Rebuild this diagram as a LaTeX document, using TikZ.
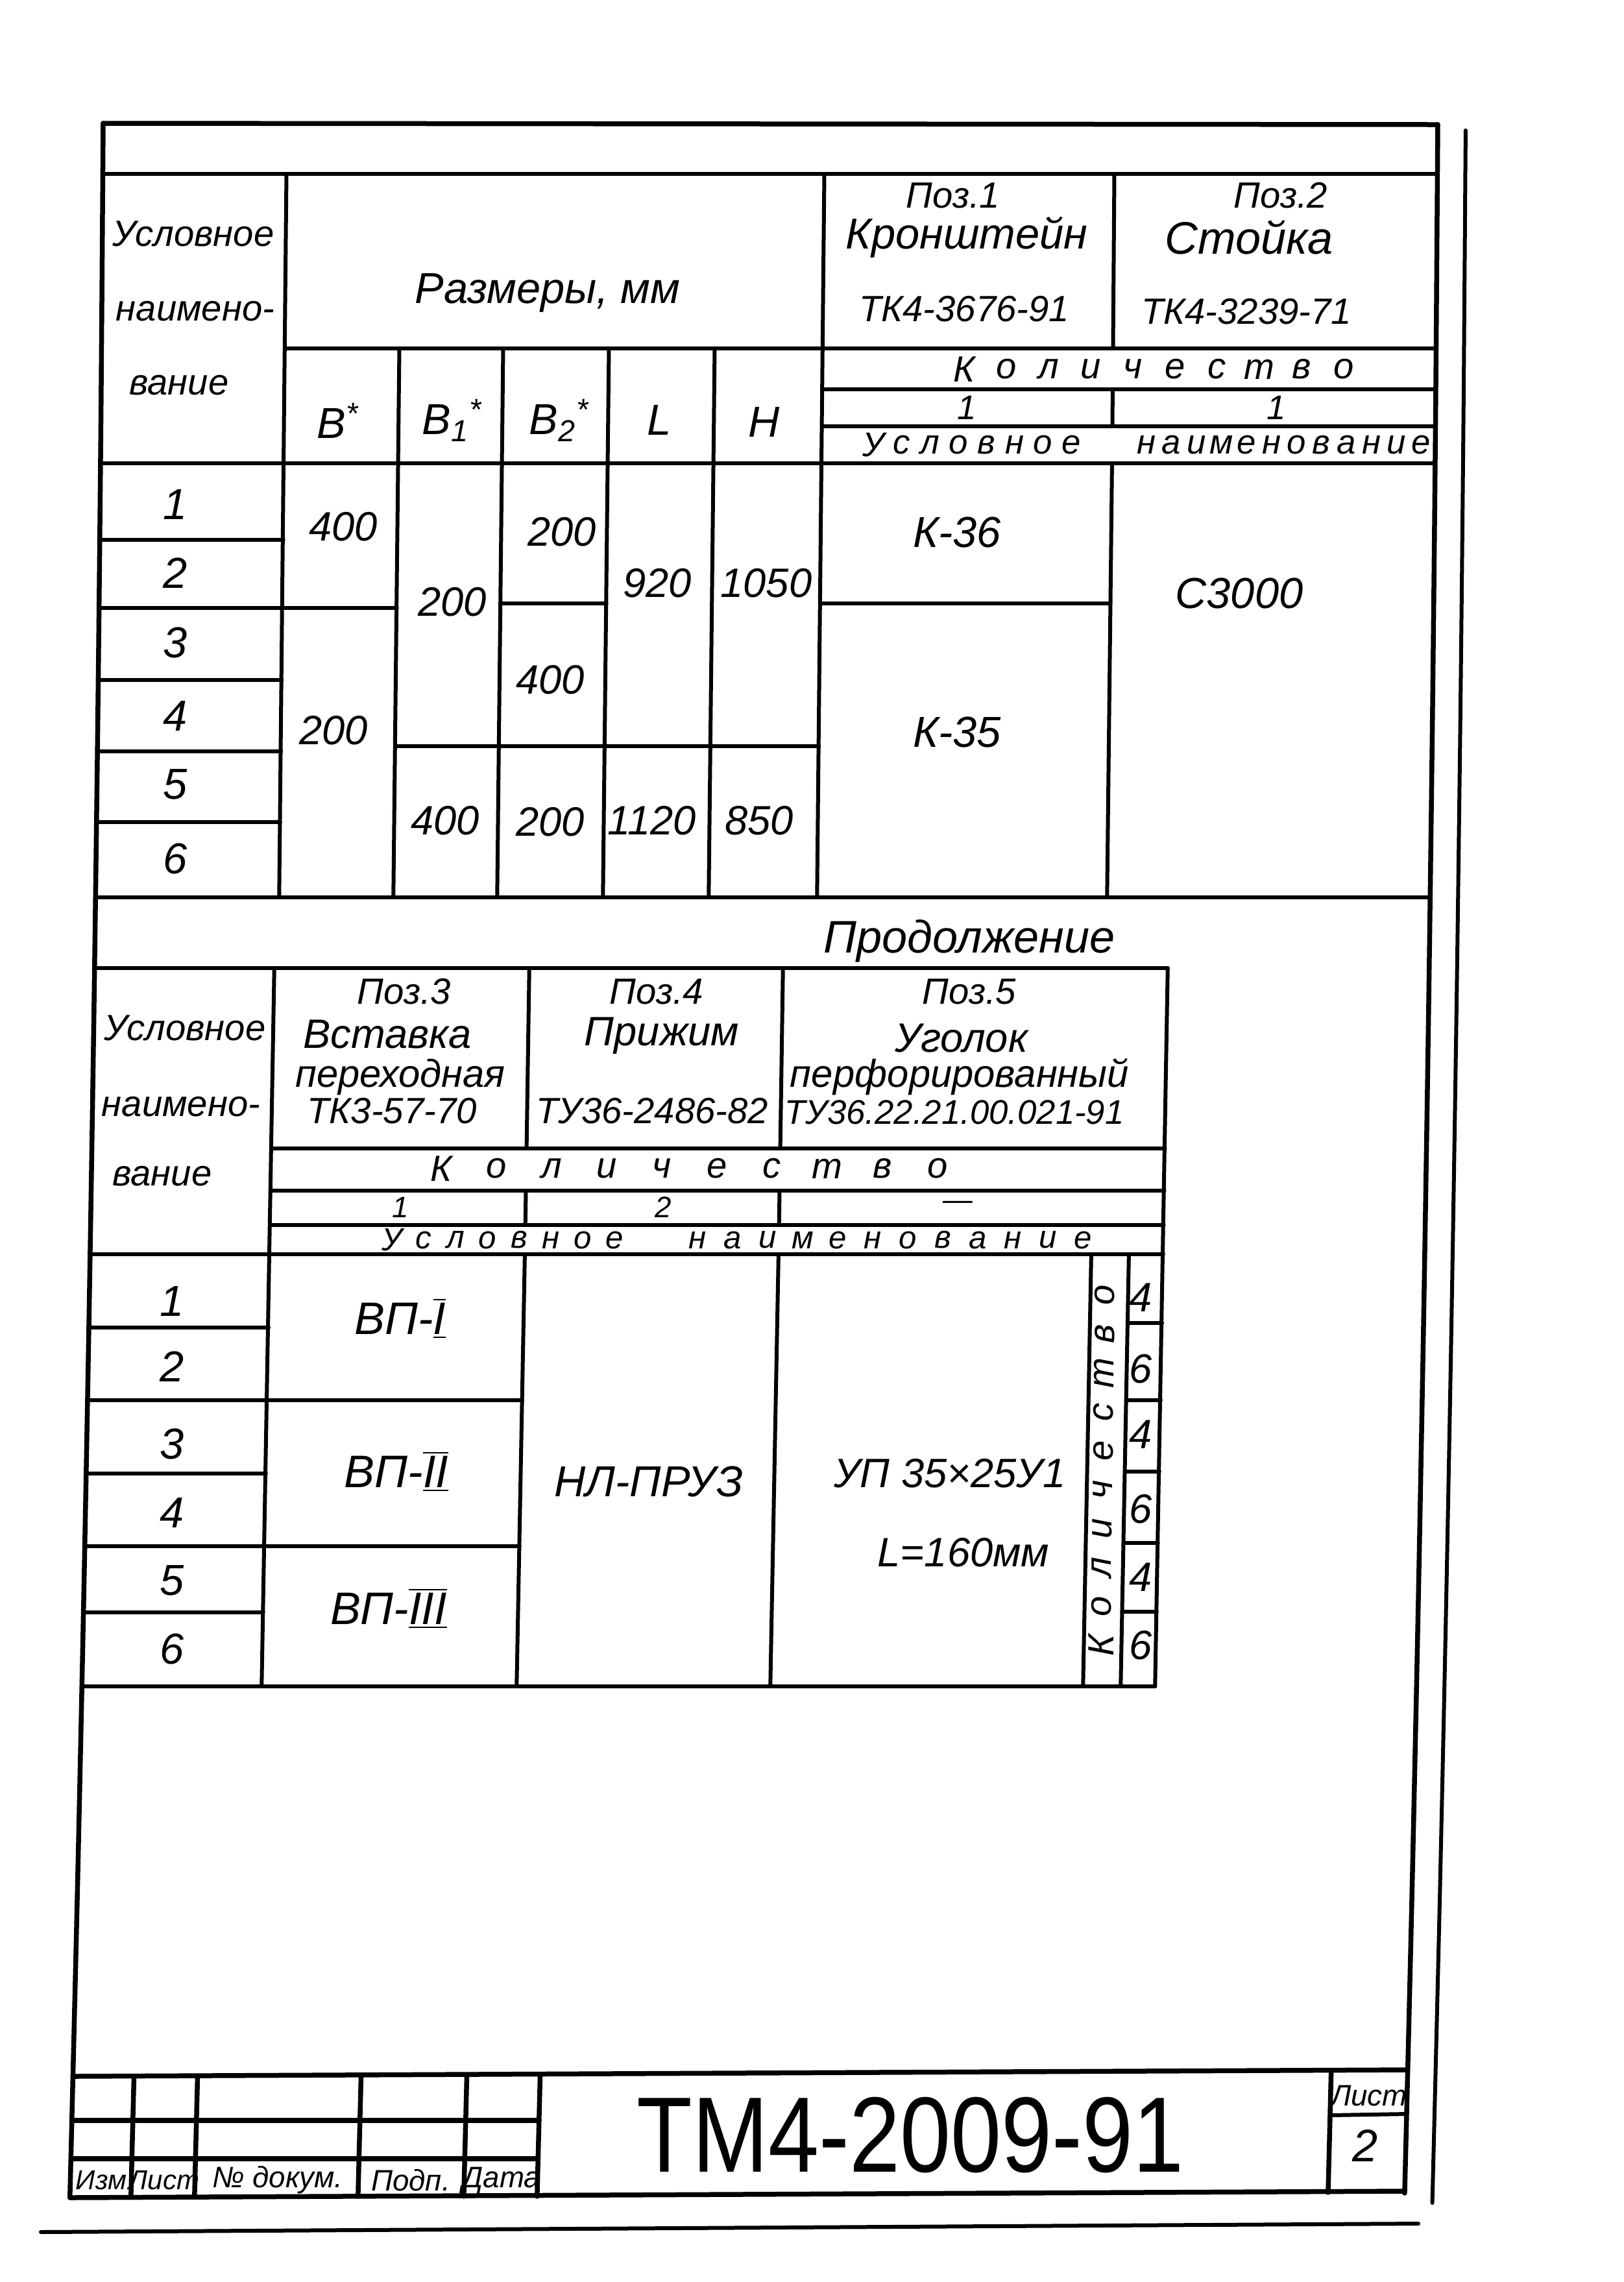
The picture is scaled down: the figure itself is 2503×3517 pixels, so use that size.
\documentclass[tikz,border=0pt]{standalone}
\usepackage{fontspec}
\setmainfont{Liberation Sans}
\usetikzlibrary{positioning}

\begin{document}
\begin{tikzpicture}[x=0.1mm, y=-0.1mm,
    declare function={skx(\a,\b)=\a-6.137*((\b-190)/1000)-3.093*((\b-190)/1000)^2;},
    frameline/.style={line width=0.75mm, line cap=round},
    cellline/.style={line width=0.6mm, line cap=round},
    hand/.style={font=\itshape\fontsize{#1}{#1}\selectfont, inner sep=0pt},
    hand/.default=18]
  \fill[white] (0,0) rectangle (2503,3517);

  % frame
  \draw[frameline] ({skx(159,190)},190) -- ({skx(2216,192)},192);
  \draw[frameline] plot[smooth, domain=190:3387, samples=8, variable=\t] ({skx(159,\t)},\t);
  \draw[frameline] plot[smooth, domain=192:3380, samples=8, variable=\t] ({skx(2216,\t)},\t);
  \draw[cellline] plot[smooth, domain=201:3395, samples=8, variable=\t] ({skx(2259,\t)},\t);

  % table 1 grid
  \foreach \xa/\xb/\yy in {159/2216/268, 442/2216/537, 1271/2216/600, 1271/2216/657,
      159/2216/714, 159/442/832, 159/442/937, 159/442/1048, 159/442/1158, 159/442/1267,
      442/618/937, 778/941/930, 618/1271/1150, 1271/1718/930, 159/2216/1383}
    \draw[cellline] ({skx(\xa,\yy)},\yy) -- ({skx(\xb,\yy)},\yy);
  \foreach \xx/\ya/\yb in {442/268/1383, 618/537/1383, 778/537/1383, 941/537/1383,
      1104/537/1383, 1271/268/1383, 1718/268/537, 1718/600/657, 1718/714/1383}
    \draw[cellline] ({skx(\xx,\ya)},\ya) -- ({skx(\xx,\yb)},\yb);

  % table 1 header
  \node[hand=16] (ua) at (298,360) {Условное};
  \node[hand=16] (ub) at (301,480) {наимено-};
  \node[hand=16] (uc) at (276,594) {вание};
  \node[hand=19] (razm) at (844,451) {Размеры, мм};
  \node[hand=19] (cb) at (521,648) {В\textsuperscript{*}};
  \node[hand=19] (cba) at (697,648) {В\textsubscript{1}\textsuperscript{*}};
  \node[hand=19] (cbb) at (862,648) {В\textsubscript{2}\textsuperscript{*}};
  \node[hand=19] (cl) at (1016,648) {L};
  \node[hand=19] (ch) at (1178,651) {Н};
  \node[hand=16] (pa) at (1469,301) {Поз.1};
  \node[hand=19] (pan) at (1490,366) {Кронштейн};
  \node[hand=16] (pat) at (1486,476) {ТК4-3676-91};
  \node[hand=16] (pb) at (1974,301) {Поз.2};
  \node[hand=20] (pbn) at (1925,366) {Стойка};
  \node[hand=16] (pbt) at (1921,480) {ТК4-3239-71};
  \foreach \ch [count=\i from 0] in {К,о,л,и,ч,е,с,т,в,о}
    \node[hand=16] (ka\i) at ({1486+65*\i},569) {\ch};
  \node[hand=15] (qa) at (1490,628) {1};
  \node[hand=15] (qb) at (1967,628) {1};
  \foreach \ch [count=\i from 0] in {У,с,л,о,в,н,о,е}
    \node[hand=15] (ya\i) at ({1346+43.6*\i},686) {\ch};
  \foreach \ch [count=\i from 0] in {н,а,и,м,е,н,о,в,а,н,и,е}
    \node[hand=15] (na\i) at ({1767+38.5*\i},686) {\ch};

  % table 1 body
  \foreach \yy [count=\i] in {778,883,990,1104,1209,1323}
    \node[hand=19] (ra\i) at (270,\yy) {\i};
  \node[hand=18] (va) at (529,812) {400};
  \node[hand=18] (vb) at (514,1126) {200};
  \node[hand=18] (vc) at (697,928) {200};
  \node[hand=18] (vd) at (866,820) {200};
  \node[hand=18] (ve) at (848,1048) {400};
  \node[hand=18] (vf) at (1013,899) {920};
  \node[hand=18] (vg) at (1181,899) {1050};
  \node[hand=18] (vh) at (686,1265) {400};
  \node[hand=18] (vi) at (848,1267) {200};
  \node[hand=18] (vj) at (1005,1265) {1120};
  \node[hand=18] (vk) at (1170,1265) {850};
  \node[hand=19] (ka) at (1475,820) {К-36};
  \node[hand=19] (kb) at (1475,1128) {К-35};
  \node[hand=19] (sa) at (1910,914) {С3000};

  % table 2 grid
  \node[hand=20] (cont) at (1494,1450) {Продолжение};
  \foreach \xa/\xb/\yy in {159/1813/1492, 436/1813/1770, 436/1813/1835, 436/1813/1888,
      159/1813/1933, 159/436/2046, 159/436/2158, 159/436/2271, 159/436/2383, 159/436/2485,
      436/829/2158, 436/829/2383, 1760/1813/2039, 1760/1813/2158, 1760/1813/2268,
      1760/1813/2378, 1760/1813/2484, 159/1813/2599}
    \draw[cellline] ({skx(\xa,\yy)},\yy) -- ({skx(\xb,\yy)},\yy);
  \foreach \xx/\ya/\yb in {436/1492/2599, 829/1492/1770, 829/1835/1888, 829/1933/2599,
      1220/1492/1770, 1220/1835/1888, 1220/1933/2599, 1702/1933/2599, 1760/1933/2599,
      1813/1492/2599}
    \draw[cellline] ({skx(\xx,\ya)},\ya) -- ({skx(\xx,\yb)},\yb);

  % table 2 header
  \node[hand=16] (ud) at (285,1584) {Условное};
  \node[hand=16] (ue) at (279,1706) {наимено-};
  \node[hand=16] (uf) at (250,1813) {вание};
  \node[hand=16] (pc) at (623,1528) {Поз.3};
  \node[hand=18] (pcn) at (597,1594) {Вставка};
  \node[hand=17] (pcm) at (617,1660) {переходная};
  \node[hand=16] (pct) at (604,1712) {ТК3-57-70};
  \node[hand=16] (pd) at (1012,1528) {Поз.4};
  \node[hand=18] (pdn) at (1020,1596) {Прижим};
  \node[hand=16] (pdt) at (1005,1712) {ТУ36-2486-82};
  \node[hand=16] (pe) at (1494,1528) {Поз.5};
  \node[hand=18] (pen) at (1482,1600) {Уголок};
  \node[hand=17] (pem) at (1479,1660) {перфорированный};
  \node[hand=15] (pet) at (1471,1714) {ТУ36.22.21.00.021-91};
  \foreach \ch [count=\i from 0] in {К,о,л,и,ч,е,с,т,в,о}
    \node[hand=16] (kb\i) at ({680+85*\i},1801) {\ch};
  \node[hand=13] (qc) at (617,1861) {1};
  \node[hand=13] (qd) at (1022,1861) {2};
  \node[hand=13] (qe) at (1476,1858) {---};
  \foreach \ch [count=\i from 0] in {У,с,л,о,в,н,о,е}
    \node[hand=14] (yb\i) at ({604+49*\i},1911) {\ch};
  \foreach \ch [count=\i from 0] in {н,а,и,м,е,н,о,в,а,н,и,е}
    \node[hand=14] (nb\i) at ({1075+54*\i},1911) {\ch};

  % table 2 body
  \foreach \yy [count=\i] in {2005,2106,2225,2331,2436,2541}
    \node[hand=19] (rb\i) at (265,\yy) {\i};
  \node[hand=20] (vpa) at (617,2032) {ВП-$\overline{\underline{\mbox{I}}}$};
  \node[hand=20] (vpb) at (611,2268) {ВП-$\overline{\underline{\mbox{II}}}$};
  \node[hand=20] (vpc) at (599,2479) {ВП-$\overline{\underline{\mbox{III}}}$};
  \node[hand=19] (nl) at (1000,2283) {НЛ-ПРУЗ};
  \node[hand=18] (up) at (1464,2271) {УП 35×25У1};
  \node[hand=18] (ul) at (1485,2393) {L=160мм};
  \foreach \ch [count=\i from 0] in {К,о,л,и,ч,е,с,т,в,о}
    \node[hand=16, rotate=90] (kv\i) at ({1697+0.011*(60*\i)},{2536-60*\i}) {\ch};
  \foreach \n/\yy [count=\i] in {4/2000, 6/2110, 4/2211, 6/2326, 4/2431, 6/2536}
    \node[hand=18] (q\i) at (1758,\yy) {\n};

  % title block
  \draw[frameline] ({skx(159,3200)},3200) -- ({skx(2216,3190)},3190);
  \draw[frameline] ({skx(159,3387)},3387) -- ({skx(2216,3377)},3377);
  \foreach \yy in {3268,3327}
    \draw[frameline] ({skx(159,\yy)},\yy) -- ({skx(879,\yy)},\yy);
  \foreach \xx in {253,351,603,766,879}
    \draw[frameline] ({skx(\xx,3200)},3200) -- ({skx(\xx,3385)},3385);
  \draw[frameline] ({skx(2098,3192)},3192) -- ({skx(2098,3379)},3379);
  \draw[cellline] ({skx(2098,3260)},3260) -- ({skx(2216,3258)},3258);
  \draw[cellline] (63,3440) -- (2186,3427);
  \node[hand=12] (izm) at (156,3360) {Изм};
  \node[hand=12] (lst) at (253,3360) {Лист};
  \node[hand=13] (doc) at (428,3360) {№ докум.};
  \node[hand=13] (sig) at (633,3360) {Подп.};
  \node[hand=13] (dat) at (773,3360) {Дата};
  \node[font=\fontsize{47}{47}\selectfont, inner sep=0pt] (code) at (1403,3291)
    {\scalebox{0.85}[1]{ТМ4-2009-91}};
  \node[hand=13] (sh) at (2110,3230) {Лист};
  \node[hand=20] (shn) at (2104,3307) {2};
\end{tikzpicture}
\end{document}
